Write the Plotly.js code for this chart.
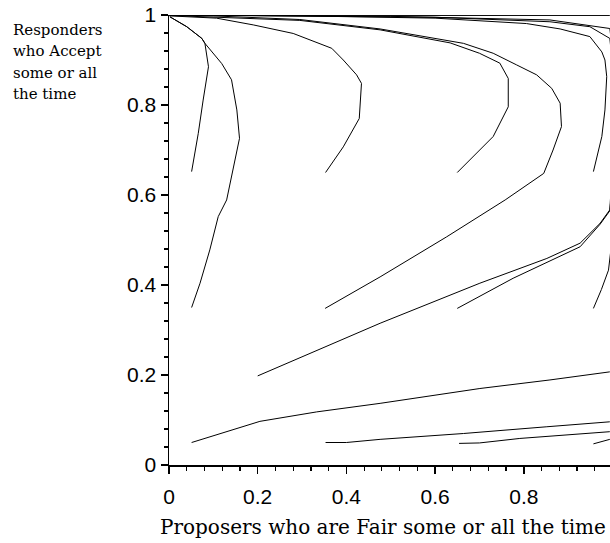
<!DOCTYPE html>
<html>
<head>
<meta charset="utf-8">
<script src="https://cdn.plot.ly/plotly-3.0.1.min.js"></script>
<style>
  html, body { margin: 0; padding: 0; background: #fff; }
  #chart { width: 610px; height: 543px; }
</style>
</head>
<body>
<div id="chart"></div>
<script>
// Trajectories: x = share of Proposers who are Fair, y = share of Responders who Accept
const c1x = [0.051, 0.066, 0.077, 0.089, 0.081, 0.074, 0.040, 0.002];
const c1y = [0.652, 0.737, 0.811, 0.885, 0.937, 0.948, 0.974, 0.996];

const c2x = [0.051, 0.070, 0.092, 0.111, 0.130, 0.145, 0.159, 0.153, 0.141, 0.119, 0.081, 0.074, 0.040, 0.002];
const c2y = [0.350, 0.404, 0.478, 0.552, 0.589, 0.663, 0.726, 0.789, 0.856, 0.892, 0.937, 0.948, 0.974, 0.996];

const c3x = [0.353, 0.393, 0.429, 0.432, 0.434, 0.423, 0.393, 0.367, 0.310, 0.280, 0.190, 0.107, 0.002];
const c3y = [0.650, 0.707, 0.770, 0.811, 0.848, 0.867, 0.900, 0.926, 0.948, 0.959, 0.978, 0.993, 0.998];

const c4x = [0.650, 0.731, 0.765, 0.765, 0.746, 0.700, 0.634, 0.476, 0.295, 0.107, 0.000];
const c4y = [0.650, 0.730, 0.796, 0.859, 0.893, 0.915, 0.938, 0.967, 0.988, 0.996, 0.999];

const c5x = [0.352, 0.476, 0.626, 0.758, 0.845, 0.866, 0.885, 0.882, 0.863, 0.829, 0.784, 0.731, 0.664, 0.476, 0.295, 0.100, 0.000];
const c5y = [0.348, 0.418, 0.507, 0.589, 0.648, 0.700, 0.752, 0.804, 0.837, 0.867, 0.889, 0.915, 0.937, 0.969, 0.990, 0.998, 1.000];

const c6x = [0.957, 0.976, 0.983, 0.987, 0.983, 0.976, 0.949, 0.882, 0.806, 0.600, 0.300, 0.000];
const c6y = [0.652, 0.730, 0.789, 0.863, 0.900, 0.918, 0.952, 0.969, 0.981, 0.993, 0.998, 1.000];

const c7x = [0.200, 0.476, 0.701, 0.852, 0.927, 0.972, 0.994, 0.999, 0.999, 0.994, 0.949, 0.859, 0.600, 0.200, 0.000];
const c7y = [0.198, 0.315, 0.404, 0.459, 0.493, 0.537, 0.567, 0.650, 0.900, 0.948, 0.974, 0.985, 0.995, 0.999, 1.000];

const c8x = [0.650, 0.776, 0.927, 0.972, 0.994, 0.999];
const c8y = [0.348, 0.415, 0.485, 0.535, 0.565, 0.620];

const c9x = [0.957, 0.975, 0.991, 0.999, 0.999, 0.994, 0.859, 0.500, 0.000];
const c9y = [0.348, 0.390, 0.433, 0.500, 0.930, 0.970, 0.989, 0.997, 1.000];

const c10x = [0.051, 0.107, 0.205, 0.333, 0.476, 0.701, 0.859, 0.994];
const c10y = [0.050, 0.067, 0.097, 0.118, 0.137, 0.170, 0.189, 0.207];

const c11x = [0.353, 0.400, 0.476, 0.664, 0.852, 0.994];
const c11y = [0.050, 0.050, 0.057, 0.070, 0.085, 0.096];

const c12x = [0.654, 0.700, 0.791, 0.994];
const c12y = [0.048, 0.049, 0.059, 0.074];

const c13x = [0.957, 0.994];
const c13y = [0.047, 0.057];

const c14x = [0.000, 0.500, 0.994];
const c14y = [0.999, 0.999, 0.999];

const tickVals = [0, 0.2, 0.4, 0.6, 0.8, 1];
const tickText = ['0', '0.2', '0.4', '0.6', '0.8', '1'];

const yTitleLines = ['Responders', 'who Accept', 'some or all', 'the time'];
const xTitle = 'Proposers who are Fair some or all the time';

const curves = [
  [c1x, c1y], [c2x, c2y], [c3x, c3y], [c4x, c4y], [c5x, c5y], [c6x, c6y],
  [c7x, c7y], [c8x, c8y], [c9x, c9y], [c10x, c10y], [c11x, c11y],
  [c12x, c12y], [c13x, c13y], [c14x, c14y]
];

const traces = curves.map(function (c) {
  return {
    x: c[0], y: c[1], type: 'scatter', mode: 'lines',
    line: { color: '#000', width: 1 }, hoverinfo: 'skip', showlegend: false
  };
});

const tickFont = { family: 'Liberation Sans, Arial, sans-serif', size: 21, color: '#000' };
const serif = 'DejaVu Serif, Liberation Serif, serif';

// plot area: x 169..610 px, y 15..465 px
const PL = 169, PW = 441, PT = 15, PH = 450;
function px2paperX(px) { return (px - PL) / PW; }
function px2paperY(py) { return (PT + PH - py) / PH; }

const annotations = yTitleLines.map(function (t, i) {
  return {
    xref: 'paper', yref: 'paper', x: px2paperX(11), y: px2paperY(30 + i * 21.3),
    xanchor: 'left', yanchor: 'middle', align: 'left', showarrow: false,
    text: t, font: { family: serif, size: 15, color: '#000' }
  };
});
annotations.push({
  xref: 'paper', yref: 'paper', x: px2paperX(383), y: px2paperY(527),
  xanchor: 'center', yanchor: 'middle', showarrow: false,
  text: xTitle, font: { family: serif, size: 20, color: '#000' }
});

const layout = {
  width: 610, height: 543,
  margin: { l: PL, r: 610 - PL - PW, t: PT, b: 543 - PT - PH, pad: 0 },
  paper_bgcolor: '#fff', plot_bgcolor: '#fff',
  showlegend: false,
  xaxis: {
    range: [0, 0.9944], showgrid: false, zeroline: false,
    showline: true, linecolor: '#000', linewidth: 1.5,
    ticks: 'outside', ticklen: 7, tickwidth: 1.5, tickcolor: '#000',
    tickvals: tickVals, ticktext: tickText, tickfont: tickFont,
    ticklabelstandoff: 5,
    minor: { dtick: 0.04, ticks: 'outside', ticklen: 4, tickwidth: 1.2, tickcolor: '#000' }
  },
  yaxis: {
    range: [0, 1], showgrid: false, zeroline: false,
    showline: true, linecolor: '#000', linewidth: 1.5,
    ticks: 'outside', ticklen: 7, tickwidth: 1.5, tickcolor: '#000',
    tickvals: tickVals, ticktext: tickText, tickfont: tickFont,
    minor: { dtick: 0.04, ticks: 'outside', ticklen: 4, tickwidth: 1.2, tickcolor: '#000' }
  },
  annotations: annotations
};

Plotly.newPlot('chart', traces, layout, { staticPlot: true, displayModeBar: false });
</script>
</body>
</html>
